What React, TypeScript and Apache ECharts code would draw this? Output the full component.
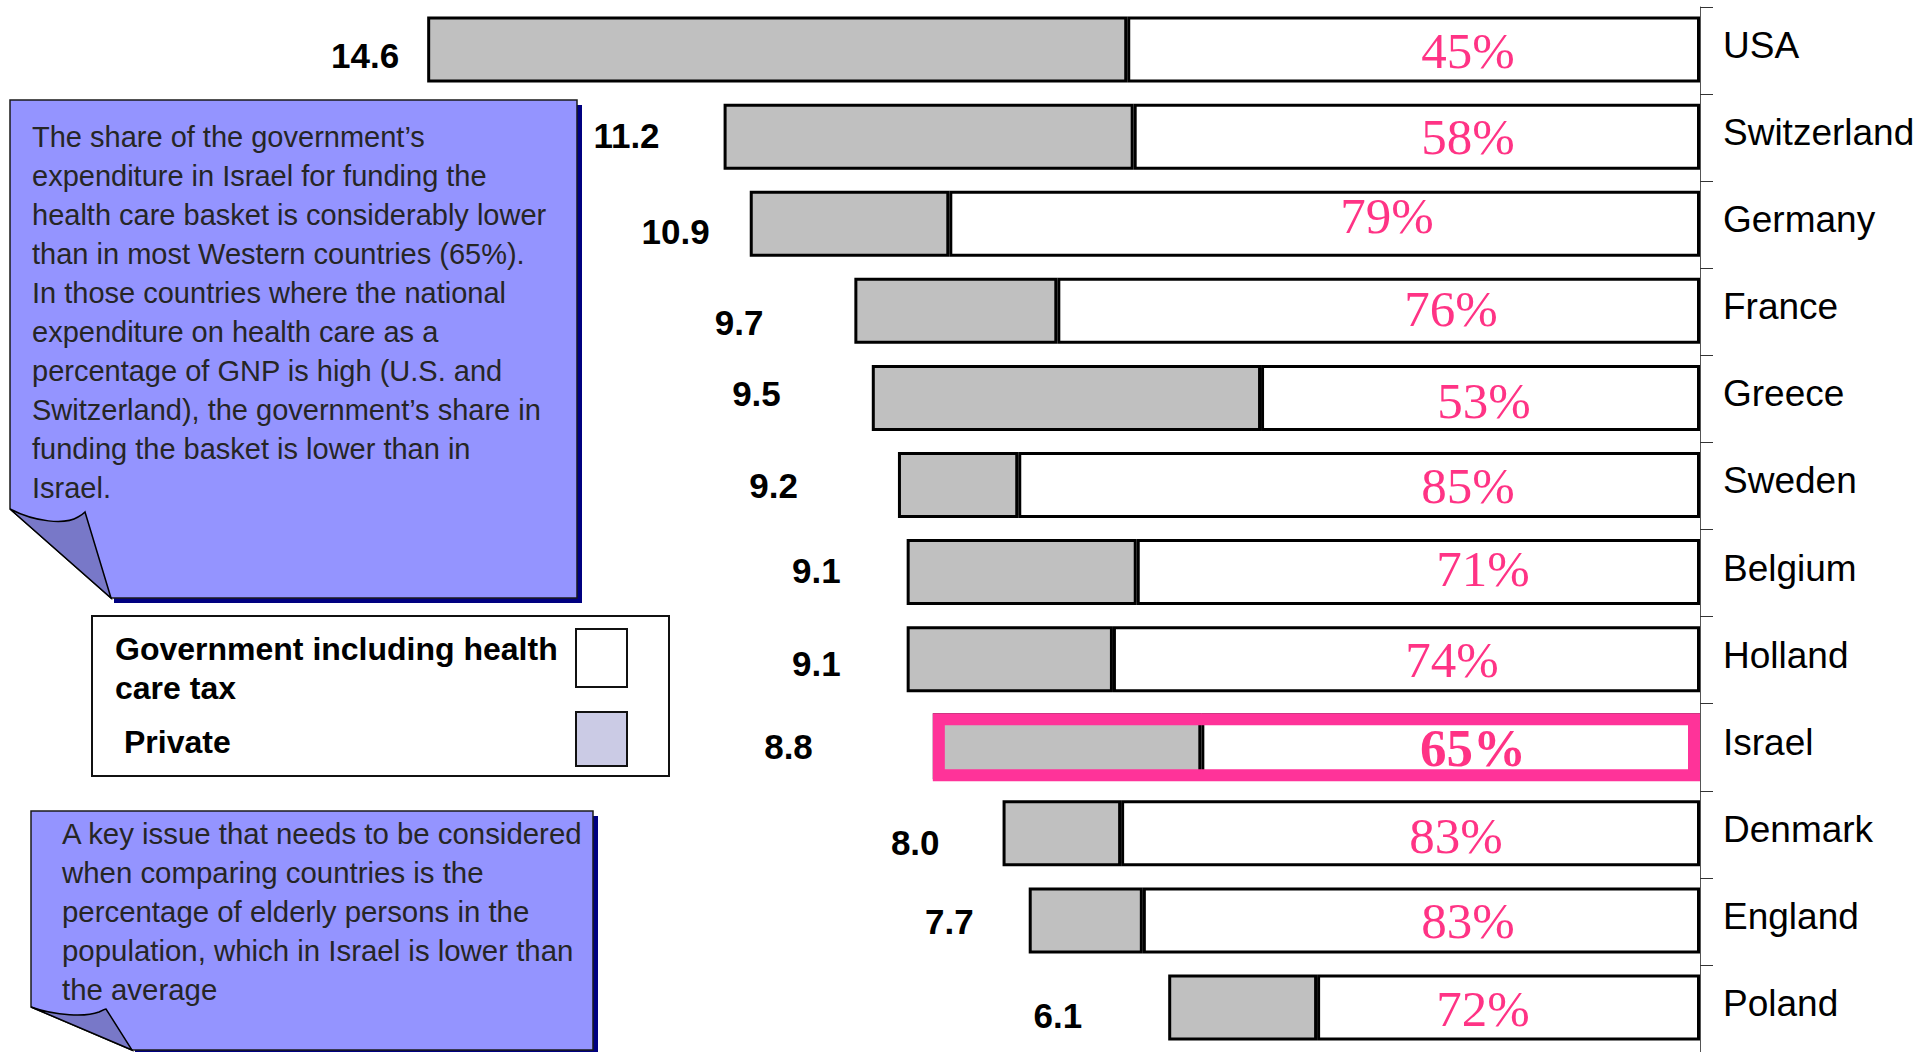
import React, { useEffect, useRef } from "react";
import * as echarts from "echarts";

// National expenditure on health care (% of GNP) and the government's share of it
const countries = [
  "USA",
  "Switzerland",
  "Germany",
  "France",
  "Greece",
  "Sweden",
  "Belgium",
  "Holland",
  "Israel",
  "Denmark",
  "England",
  "Poland",
];
const totalSpending = [14.6, 11.2, 10.9, 9.7, 9.5, 9.2, 9.1, 9.1, 8.8, 8.0, 7.7, 6.1];
const governmentShare = [45, 58, 79, 76, 53, 85, 71, 74, 65, 83, 83, 72];
const highlightCountry = "Israel";

// Hand placement of the printed labels, in pixels
const totalLabelGap = [28, 64, 40, 91, 91, 100, 66, 66, 120, 63, 55, 86];
const totalLabelDy = [6, -1, 8, 12, -4, 1, -2, 4, 0, 9, 1, 8];
const shareLabelDx = [0, 0, -81, -17, 16, 0, 15, -16, 5, -12, 0, 15];
const shareLabelDy = [0, -1, -9, -3, 2, 0, -4, 0, 1, 2, 0, 1];
// value-axis position that the share labels are centred on
const SHARE_LABEL_COLUMN = 2.66;

const legendGovernment = "Government including health\ncare tax";
const legendPrivate = "Private";

const noteOneLines = [
  "The share of the government\u2019s",
  "expenditure in Israel for funding the",
  "health care basket is considerably lower",
  "than in most Western countries (65%).",
  "In those countries where the national",
  "expenditure on health care as a",
  "percentage of GNP is high (U.S. and",
  "Switzerland), the government\u2019s share in",
  "funding the basket is lower than in",
  "Israel.",
];
const noteTwoLines = [
  "A key issue that needs to be considered",
  "when comparing countries is the",
  "percentage of elderly persons in the",
  "population, which in Israel is lower than",
  "the average",
];

// Curled-up corners of the two sticky notes
echarts.graphic.registerShape(
  "curlTall",
  echarts.graphic.extendPath("M0 0 C25 13 55 16 68 8 C72 6 74 4 75 3 L101 89 Z", {})
);
echarts.graphic.registerShape(
  "curlShort",
  echarts.graphic.extendPath("M0 0 C25 9 55 10 68 5 C72 3 74 2 75 2 L101 43 Z", {})
);

const SANS = "'Liberation Sans', Arial, sans-serif";
const SERIF = "'Liberation Serif', 'Times New Roman', serif";
const NOTE_FILL = "#9494FF";
const NOTE_SHADOW = "#000080";
const CURL_FILL = "#7878C8";

function noteGraphics(
  left: number,
  top: number,
  right: number,
  bottom: number,
  curlX: number,
  curlY: number,
  tipX: number,
  curlType: string,
  lines: string[],
  textX: number,
  firstLineY: number,
  fontSize: number
) {
  return [
    { type: "rect", shape: { x: right, y: top + 5, width: 5, height: bottom - top }, style: { fill: NOTE_SHADOW } },
    { type: "rect", shape: { x: tipX + 3, y: bottom, width: right - tipX + 2, height: 5 }, style: { fill: NOTE_SHADOW } },
    {
      type: "polygon",
      shape: {
        points: [
          [left, top],
          [right, top],
          [right, bottom],
          [tipX, bottom],
          [left, curlY],
        ],
      },
      style: { fill: NOTE_FILL, stroke: "#1a1a1a", lineWidth: 1.5 },
    },
    {
      type: curlType,
      x: curlX,
      y: curlY,
      style: { fill: CURL_FILL, stroke: "#000", lineWidth: 1.5 },
    },
    {
      type: "text",
      x: textX,
      y: firstLineY - 19.5,
      style: {
        text: lines.join("\n"),
        fontFamily: SANS,
        fontSize,
        lineHeight: 39,
        fill: "#262626",
        verticalAlign: "top",
        align: "left",
      },
    },
  ];
}

export default function App() {
  const ref = useRef<HTMLDivElement>(null);

  useEffect(() => {
    if (!ref.current) return;
    const chart = echarts.init(ref.current, undefined, { renderer: "svg" });

    const governmentPart = totalSpending.map((t, i) => +((t * governmentShare[i]) / 100).toFixed(4));
    const privatePart = totalSpending.map((t, i) => +(t - governmentPart[i]).toFixed(4));

    const option = {
      animation: false,
      backgroundColor: "#ffffff",
      grid: { left: 0, right: 227, top: 7, bottom: 0 },
      xAxis: {
        type: "value",
        inverse: true,
        min: 0,
        max: 19.5,
        show: false,
      },
      yAxis: {
        type: "category",
        data: countries,
        inverse: true,
        position: "right",
        axisLine: { show: true, lineStyle: { color: "#555", width: 1 } },
        axisTick: { show: true, length: 13, lineStyle: { color: "#333", width: 1 } },
        axisLabel: {
          margin: 23,
          fontFamily: SANS,
          fontSize: 37,
          color: "#000",
          align: "left",
          verticalAlign: "bottom",
          lineHeight: 10,
        },
        splitLine: { show: false },
      },
      series: [
        {
          name: "Government including health care tax",
          type: "bar",
          stack: "spending",
          barWidth: 66,
          barGap: "-100%",
          data: governmentPart,
          itemStyle: { color: "#ffffff", borderColor: "#000", borderWidth: 3 },
          silent: true,
        },
        {
          name: "Private",
          type: "bar",
          stack: "spending",
          barWidth: 66,
          barGap: "-100%",
          data: privatePart.map((v, i) => ({
            value: v,
            label: { distance: totalLabelGap[i], offset: [0, totalLabelDy[i]] },
          })),
          itemStyle: { color: "#C0C0C0", borderColor: "#000", borderWidth: 3 },
          label: {
            show: true,
            position: "left",
            formatter: (p: any) => totalSpending[p.dataIndex].toFixed(1),
            fontFamily: SANS,
            fontSize: 35,
            fontWeight: "bold",
            color: "#000",
          },
          silent: true,
        },
        {
          name: "highlight",
          type: "bar",
          barWidth: 68,
          barGap: "-100%",
          z: 3,
          data: countries.map((c, i) => (c === highlightCountry ? totalSpending[i] : "-")),
          itemStyle: { color: "rgba(0,0,0,0)", borderColor: "#FF3399", borderWidth: 12 },
          silent: true,
        },
        {
          name: "share",
          type: "scatter",
          symbolSize: 0,
          z: 4,
          data: countries.map((c, i) => ({
            value: [SHARE_LABEL_COLUMN, c],
            label: {
              offset: [shareLabelDx[i], shareLabelDy[i]],
              fontWeight: c === highlightCountry ? "bold" : "normal",
              fontSize: c === highlightCountry ? 53 : 51,
            },
          })),
          label: {
            show: true,
            position: "inside",
            formatter: (p: any) => governmentShare[p.dataIndex] + "%",
            fontFamily: SERIF,
            fontSize: 51,
            color: "#FF0066",
          },
          silent: true,
        },
      ],
      graphic: [
        ...noteGraphics(10, 100, 577, 598, 10, 509, 111, "curlTall", noteOneLines, 32, 137, 29),
        ...noteGraphics(31, 811, 593, 1050, 31, 1007, 132, "curlShort", noteTwoLines, 62, 833, 29.4),
        // legend
        {
          type: "rect",
          shape: { x: 92, y: 616, width: 577, height: 160 },
          style: { fill: "#ffffff", stroke: "#111", lineWidth: 2 },
        },
        {
          type: "text",
          x: 115,
          y: 649 - 19.5,
          style: {
            text: legendGovernment,
            fontFamily: SANS,
            fontSize: 32,
            fontWeight: "bold",
            lineHeight: 39,
            fill: "#000",
            verticalAlign: "top",
          },
        },
        {
          type: "text",
          x: 124,
          y: 742,
          style: {
            text: legendPrivate,
            fontFamily: SANS,
            fontSize: 32,
            fontWeight: "bold",
            fill: "#000",
            verticalAlign: "middle",
          },
        },
        {
          type: "rect",
          shape: { x: 576, y: 629, width: 51, height: 58 },
          style: { fill: "#ffffff", stroke: "#111", lineWidth: 2 },
        },
        {
          type: "rect",
          shape: { x: 576, y: 712, width: 51, height: 54 },
          style: { fill: "#CBCBE5", stroke: "#111", lineWidth: 2 },
        },
      ],
    };

    chart.setOption(option as any);
    return () => chart.dispose();
  }, []);

  return (
    <div
      ref={ref}
      style={{ position: "absolute", left: 0, top: 0, width: 1927, height: 1052, background: "#fff" }}
    />
  );
}
